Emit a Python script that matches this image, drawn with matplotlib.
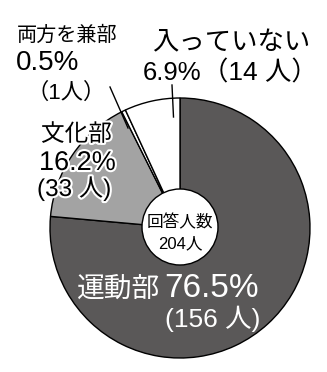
import matplotlib
matplotlib.use("Agg")
import matplotlib.pyplot as plt
import matplotlib.patheffects as pe
from matplotlib.patches import Circle

plt.rcParams['font.family'] = ['Noto Sans CJK JP', 'DejaVu Sans']
MIX = ['Liberation Sans', 'Noto Sans CJK JP']

# data
labels = ['運動部', '文化部', '両方を兼部', '入っていない']
counts = [156, 33, 1, 14]
percents = [76.5, 16.2, 0.5, 6.9]
colors = ['#5a5858', '#a3a3a3', '#ffffff', '#ffffff']
total = 204

W, H = 327, 372
fig = plt.figure(figsize=(W / 100, H / 100), dpi=100)
ax = fig.add_axes([0, 0, 1, 1])

cx, cy, r = 180, H - 228, 130
ax.pie(percents, colors=colors, startangle=90, counterclock=False,
       center=(cx, cy), radius=r, frame=True,
       wedgeprops=dict(edgecolor='black', linewidth=1.0))
ax.set_xlim(0, W)
ax.set_ylim(0, H)
ax.axis('off')


def y(p):
    return H - p


# center circle
ax.add_patch(Circle((cx, y(227)), 38, facecolor='white', edgecolor='black', lw=1.0, zorder=5))
ax.text(cx, y(227), '回答人数', ha='center', va='baseline', fontsize=12, zorder=6)
ax.text(cx, y(248), f'{total}人', ha='center', va='baseline', fontsize=12,
        family=MIX, zorder=6)

# 運動部
ax.text(77, y(297), labels[0], ha='left', va='baseline', fontsize=20, color='white')
ax.text(259, y(297), f'{percents[0]}%', ha='right', va='baseline', fontsize=24,
        color='white', family=MIX)
ax.text(260, y(327), f'({counts[0]} 人)', ha='right', va='baseline', fontsize=19,
        color='white', family=MIX)

# 文化部
stroke = [pe.withStroke(linewidth=3, foreground='white')]
ax.text(41, y(141), labels[1], ha='left', va='baseline', fontsize=17, path_effects=stroke)
ax.text(39, y(170), f'{percents[1]}%', ha='left', va='baseline', fontsize=19.5,
        family=MIX, path_effects=stroke)
ax.text(37, y(196), f'({counts[1]} 人)', ha='left', va='baseline', fontsize=17.5,
        family=MIX, path_effects=stroke)

# 両方を兼部
ax.text(17, y(41), labels[2], ha='left', va='baseline', fontsize=14.5)
ax.text(16, y(70), f'{percents[2]}%', ha='left', va='baseline', fontsize=20, family=MIX)
ax.text(26, y(99), f'（{counts[2]}人）', ha='left', va='baseline', fontsize=16, family=MIX)
ax.plot([110, 128], [y(87), y(128)], color='black', lw=1.0)

# 入っていない
ax.text(152, y(50), labels[3], ha='left', va='baseline', fontsize=19)
ax.text(143, y(80), f'{percents[3]}%', ha='left', va='baseline', fontsize=18.5, family=MIX)
ax.text(202, y(80), f'（{counts[3]} 人）', ha='left', va='baseline', fontsize=19, family=MIX)
ax.plot([172, 173.5], [y(85), y(117)], color='black', lw=1.0)

fig.savefig('out.png', dpi=100)
